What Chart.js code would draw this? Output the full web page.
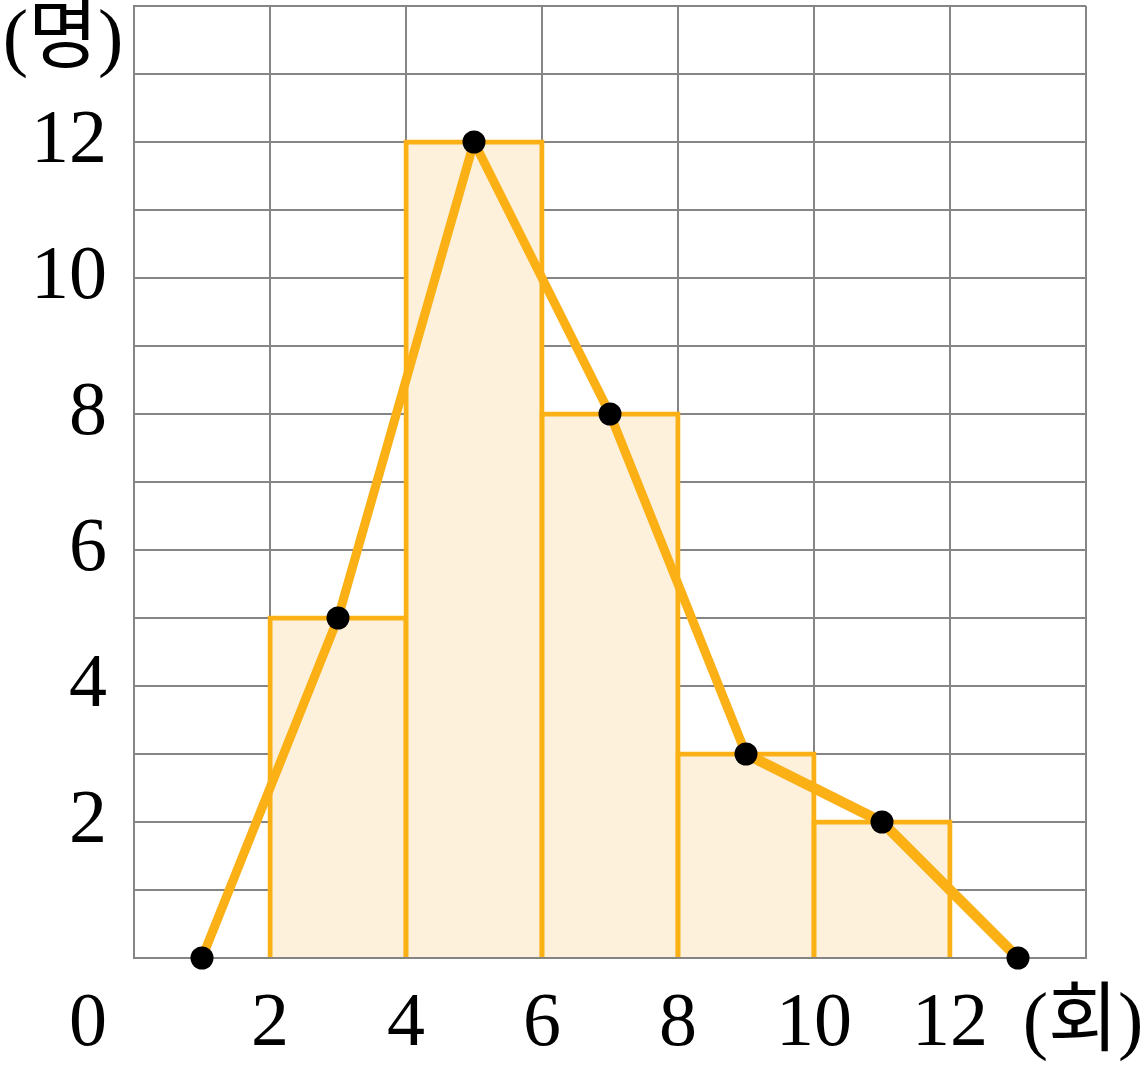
<!DOCTYPE html>
<html><head><meta charset="utf-8">
<script src="https://cdn.jsdelivr.net/npm/chart.js@4/dist/chart.umd.min.js"></script>
<style>html,body{margin:0;padding:0;background:#fff}#wrap{width:1140px;height:1070px;position:relative}</style>
</head><body><div id="wrap"><canvas id="c"></canvas></div>
<script>
// ---- data ----
const classLower = [2, 4, 6, 8, 10];
const classUpper = [4, 6, 8, 10, 12];
const frequencies = [5, 12, 8, 3, 2];
const polygonX = [1, 3, 5, 7, 9, 11, 13];
const polygonY = [0, 5, 12, 8, 3, 2, 0];
const xTickLabels = [2, 4, 6, 8, 10, 12];
const yTickLabels = [2, 4, 6, 8, 10, 12];
const xUnitLabel = '(회)';
const yUnitLabel = '(명)';
const originLabel = '0';

// ---- styles ----
const FONT = "'Liberation Serif', 'Noto Sans CJK KR', serif";
const FSIZE = 76;
const GRID = '#858585';
const ORANGE = '#fbb116';
const FILL = '#fdf1dc';
const XPAD = 21;

const barData = classLower.map((lo, i) => ({ x: (lo + classUpper[i]) / 2, y: frequencies[i] }));
const lineData = polygonX.map((x, i) => ({ x: x, y: polygonY[i] }));

const labelsPlugin = {
  id: 'unitLabels',
  afterDraw(chart) {
    const ctx = chart.ctx;
    const xs = chart.scales.x, ys = chart.scales.y;
    ctx.save();
    ctx.fillStyle = '#000';
    ctx.font = FSIZE + 'px ' + FONT;
    ctx.textAlign = 'center';
    ctx.textBaseline = 'middle';
    const labelY = xs.top + XPAD + FSIZE * 1.2 / 2;
    ctx.fillText(originLabel, xs.getPixelForValue(0) - 46, labelY);
    ctx.fillText(xUnitLabel, xs.getPixelForValue(14) - 3, labelY);
    ctx.fillText(yUnitLabel, xs.getPixelForValue(0) - 71, ys.getPixelForValue(14) + 36);
    ctx.restore();
  }
};

new Chart(document.getElementById('c'), {
  type: 'bar',
  data: {
    datasets: [
      {
        type: 'line',
        data: lineData,
        borderColor: ORANGE,
        borderWidth: 9,
        segment: { borderWidth: (c) => c.p0DataIndex >= 4 ? 10.5 : 9 },
        borderJoinStyle: 'round',
        tension: 0,
        pointRadius: 11.5,
        pointHoverRadius: 11.5,
        pointBackgroundColor: '#000',
        pointBorderColor: '#000',
        pointBorderWidth: 0,
        clip: false,
        order: 0
      },
      {
        type: 'bar',
        data: barData,
        backgroundColor: FILL,
        borderColor: ORANGE,
        borderWidth: 5,
        inflateAmount: 2.5,
        borderSkipped: 'bottom',
        barPercentage: 1,
        categoryPercentage: 1,
        clip: { left: 10, right: 10, top: 10, bottom: -1 },
        order: 1
      }
    ]
  },
  options: {
    responsive: true,
    maintainAspectRatio: false,
    animation: false,
    events: [],
    layout: { autoPadding: false, padding: { left: 0, right: 54, top: 6, bottom: 0 } },
    plugins: { legend: { display: false }, tooltip: { enabled: false } },
    scales: {
      x: {
        type: 'linear',
        min: 0, max: 14,
        offset: false,
        grid: { color: GRID, lineWidth: 2, drawTicks: false, offset: false },
        border: { color: GRID, width: 2 },
        ticks: {
          stepSize: 2, autoSkip: false, maxRotation: 0, padding: XPAD,
          color: '#000', font: { family: FONT, size: FSIZE },
          callback: (v) => xTickLabels.includes(v) ? String(v) : ''
        },
        afterFit: (s) => { s.height = 112; s.paddingLeft = 0; s.paddingRight = 0; }
      },
      y: {
        type: 'linear',
        min: 0, max: 14,
        grid: { color: GRID, lineWidth: 2, drawTicks: false },
        border: { color: GRID, width: 2 },
        ticks: {
          stepSize: 1, autoSkip: false, padding: 27,
          color: '#000', font: { family: FONT, size: FSIZE },
          callback: (v) => yTickLabels.includes(v) ? String(v) : ''
        },
        afterFit: (s) => { s.width = 134; s.paddingTop = 0; s.paddingBottom = 0; }
      }
    }
  },
  plugins: [labelsPlugin]
});
</script>
</body></html>
